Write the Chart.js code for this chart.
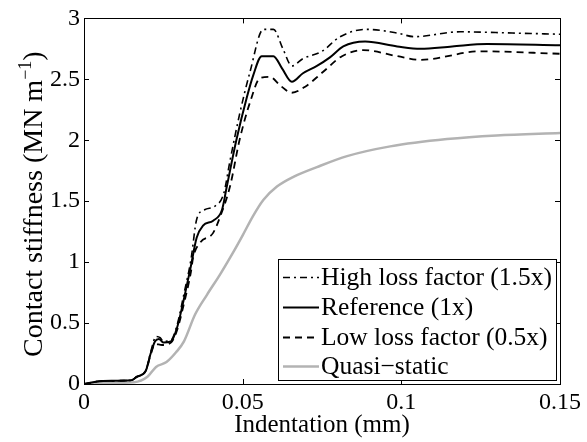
<!DOCTYPE html>
<html>
<head>
<meta charset="utf-8">
<script src="https://cdn.jsdelivr.net/npm/chart.js@4/dist/chart.umd.min.js"></script>
<style>
html,body{margin:0;padding:0;background:#fff;}
canvas{display:block;}
</style>
</head>
<body>
<canvas id="c" width="587" height="442"></canvas>
<script>
// ---- data ----
const seriesLabels = ['High loss factor (1.5x)', 'Reference (1x)', 'Low loss factor (0.5x)', 'Quasi\u2212static'];

const highX = [0, 0.006, 0.0148, 0.0167, 0.0195, 0.021, 0.0227, 0.024, 0.025, 0.0274, 0.0293, 0.0315, 0.0337, 0.0355, 0.038, 0.0413, 0.044, 0.046, 0.049, 0.0523, 0.0565, 0.0597, 0.0627, 0.0655, 0.069, 0.075, 0.0807, 0.089, 0.0987, 0.104, 0.1185, 0.135, 0.15];
const highY = [0, 0.025, 0.03, 0.06, 0.11, 0.26, 0.39, 0.38, 0.35, 0.36, 0.48, 0.74, 1.02, 1.35, 1.43, 1.46, 1.56, 1.83, 2.21, 2.56, 2.91, 2.91, 2.75, 2.61, 2.67, 2.73, 2.85, 2.91, 2.88, 2.85, 2.89, 2.88, 2.87];

const refX = [0, 0.006, 0.0148, 0.0167, 0.0195, 0.021, 0.0224, 0.0236, 0.025, 0.0274, 0.0293, 0.0315, 0.0337, 0.0355, 0.0375, 0.0407, 0.0435, 0.045, 0.048, 0.0513, 0.0533, 0.056, 0.0597, 0.0624, 0.0655, 0.069, 0.0734, 0.0775, 0.0817, 0.0886, 0.0987, 0.106, 0.116, 0.127, 0.15];
const refY = [0, 0.025, 0.03, 0.06, 0.11, 0.25, 0.35, 0.37, 0.34, 0.35, 0.46, 0.70, 0.97, 1.2, 1.30, 1.34, 1.43, 1.62, 2.0, 2.35, 2.53, 2.69, 2.69, 2.59, 2.48, 2.55, 2.61, 2.68, 2.77, 2.81, 2.77, 2.75, 2.77, 2.79, 2.78];

const lowX = [0, 0.006, 0.0148, 0.0167, 0.0195, 0.021, 0.0224, 0.0246, 0.0274, 0.0293, 0.0315, 0.0337, 0.0344, 0.0366, 0.0407, 0.043, 0.046, 0.049, 0.0523, 0.0555, 0.0586, 0.0618, 0.0655, 0.0697, 0.0753, 0.0813, 0.088, 0.0987, 0.106, 0.125, 0.15];
const lowY = [0, 0.025, 0.03, 0.06, 0.11, 0.24, 0.33, 0.32, 0.34, 0.44, 0.66, 0.92, 1.04, 1.16, 1.24, 1.38, 1.62, 2.0, 2.31, 2.51, 2.52, 2.45, 2.39, 2.44, 2.56, 2.69, 2.74, 2.69, 2.66, 2.73, 2.71];

const quasiX = [0, 0.008, 0.0158, 0.020, 0.0227, 0.026, 0.029, 0.0315, 0.035, 0.0387, 0.0429, 0.047, 0.050, 0.0533, 0.0565, 0.0608, 0.066, 0.0734, 0.0829, 0.0965, 0.1144, 0.130, 0.15];
const quasiY = [0, 0.008, 0.015, 0.06, 0.14, 0.18, 0.26, 0.35, 0.57, 0.73, 0.90, 1.08, 1.22, 1.38, 1.51, 1.62, 1.70, 1.78, 1.87, 1.95, 2.01, 2.04, 2.06];

const xTickLabels = ['0', '0.05', '0.1', '0.15'];
const yTickLabels = ['0', '0.5', '1', '1.5', '2', '2.5', '3'];
const xTitle = 'Indentation (mm)';
const yTitleMain = 'Contact stiffness (MN m';
const yTitleSup = '\u22121';
const yTitleEnd = ')';

// ---- build ----
const FONT = "'Liberation Serif', 'Times New Roman', serif";
function pts(xs, ys) { return xs.map((x, i) => ({x: x, y: ys[i]})); }

const styles = [
  {color: '#000', width: 1.6, dash: [7, 4, 2, 4]},
  {color: '#000', width: 2, dash: []},
  {color: '#000', width: 1.8, dash: [7, 5]},
  {color: '#b3b3b3', width: 2.5, dash: []}
];
const seriesData = [pts(highX, highY), pts(refX, refY), pts(lowX, lowY), pts(quasiX, quasiY)];

const datasets = seriesData.map((d, i) => ({
  label: seriesLabels[i],
  data: d,
  showLine: true,
  borderColor: styles[i].color,
  borderWidth: styles[i].width,
  borderDash: styles[i].dash,
  pointRadius: 0,
  pointHoverRadius: 0,
  fill: false,
  cubicInterpolationMode: 'monotone'
}));

const framePlugin = {
  id: 'frame',
  afterDatasetsDraw(chart) {
    const ctx = chart.ctx;
    const a = chart.chartArea;
    const xs = chart.scales.x, ys = chart.scales.y;
    ctx.save();
    ctx.strokeStyle = '#000';
    ctx.lineWidth = 1;
    ctx.setLineDash([]);
    ctx.strokeRect(Math.round(a.left) + 0.5, Math.round(a.top) + 0.5, Math.round(a.right - a.left), Math.round(a.bottom - a.top));
    const TL = 5;
    ctx.beginPath();
    xs.ticks.forEach(t => {
      const px = Math.round(xs.getPixelForValue(t.value)) + 0.5;
      ctx.moveTo(px, a.bottom); ctx.lineTo(px, a.bottom - TL);
      ctx.moveTo(px, a.top); ctx.lineTo(px, a.top + TL);
    });
    ys.ticks.forEach(t => {
      const py = Math.round(ys.getPixelForValue(t.value)) + 0.5;
      ctx.moveTo(a.left, py); ctx.lineTo(a.left + TL, py);
      ctx.moveTo(a.right, py); ctx.lineTo(a.right - TL, py);
    });
    ctx.stroke();

    // legend box
    const bx = 278, by = 259, bw = 278, bh = 121;
    ctx.fillStyle = '#fff';
    ctx.fillRect(bx, by, bw, bh);
    ctx.strokeRect(bx + 0.5, by + 0.5, bw, bh);
    const rows = [277, 307, 337, 366];
    ctx.font = '25.5px ' + FONT;
    ctx.textBaseline = 'middle';
    ctx.textAlign = 'left';
    chart.data.datasets.forEach((ds, i) => {
      const y = rows[i] + 0.5;
      ctx.beginPath();
      ctx.strokeStyle = ds.borderColor;
      ctx.lineWidth = ds.borderWidth;
      ctx.setLineDash(ds.borderDash);
      ctx.moveTo(283, y); ctx.lineTo(319, y);
      ctx.stroke();
      ctx.setLineDash([]);
      ctx.fillStyle = '#000';
      ctx.fillText(ds.label, 321, rows[i] + 1);
    });

    // y axis title with superscript
    ctx.save();
    ctx.translate(31, (a.top + a.bottom) / 2 + 3);
    ctx.rotate(-Math.PI / 2);
    const mainFont = '28px ' + FONT, supFont = '18px ' + FONT;
    ctx.font = mainFont;
    const w1 = ctx.measureText(yTitleMain).width;
    const w3 = ctx.measureText(yTitleEnd).width;
    ctx.font = supFont;
    const w2 = ctx.measureText(yTitleSup).width;
    const total = w1 + w2 + w3;
    let x0 = -total / 2;
    ctx.fillStyle = '#000';
    ctx.textBaseline = 'alphabetic';
    ctx.font = mainFont;
    ctx.fillText(yTitleMain, x0, 11);
    ctx.font = supFont;
    ctx.fillText(yTitleSup, x0 + w1, 0);
    ctx.font = mainFont;
    ctx.fillText(yTitleEnd, x0 + w1 + w2, 11);
    ctx.restore();
    ctx.restore();
  }
};

new Chart(document.getElementById('c'), {
  type: 'scatter',
  data: {datasets: datasets},
  options: {
    responsive: false,
    animation: false,
    layout: {padding: {left: 0, top: 12, right: 27, bottom: 0}},
    plugins: {legend: {display: false}, tooltip: {enabled: false}},
    scales: {
      x: {
        type: 'linear', min: 0, max: 0.15,
        grid: {display: false, drawTicks: false},
        border: {display: false},
        ticks: {
          stepSize: 0.05, padding: 4, color: '#000', maxRotation: 0, autoSkip: false,
          font: {family: FONT, size: 24},
          callback: (v, i) => xTickLabels[i]
        },
        title: {display: true, text: xTitle, color: '#000', font: {family: FONT, size: 25, lineHeight: 1}, padding: {top: 0, bottom: 4}},
        afterFit: s => { s.height = 58; }
      },
      y: {
        type: 'linear', min: 0, max: 3,
        grid: {display: false, drawTicks: false},
        border: {display: false},
        ticks: {
          stepSize: 0.5, padding: 4, color: '#000', autoSkip: false,
          font: {family: FONT, size: 24},
          callback: (v, i) => yTickLabels[i]
        },
        afterFit: s => { s.width = 84; }
      }
    }
  },
  plugins: [framePlugin]
});
</script>
</body>
</html>
